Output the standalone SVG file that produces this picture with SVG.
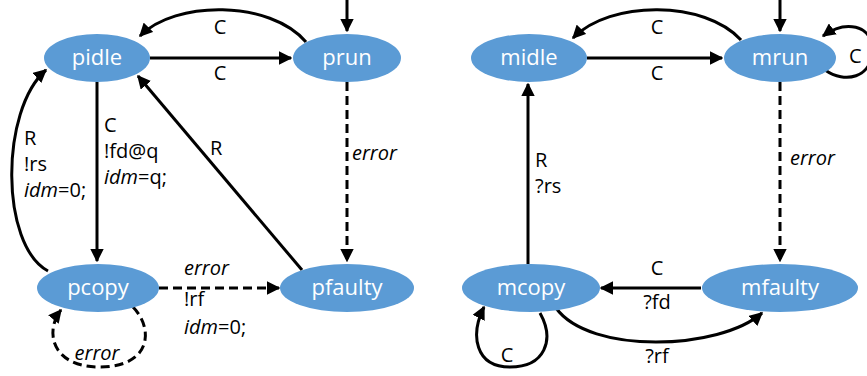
<svg xmlns="http://www.w3.org/2000/svg" width="867" height="376" viewBox="0 0 867 376">
<defs>
<marker id="ah" viewBox="0 0 10 10" refX="9" refY="5" markerWidth="4.5" markerHeight="4.5" orient="auto" markerUnits="strokeWidth">
<path d="M0,0 L10,5 L0,10 Z" fill="#000"/>
</marker>
<style>
.n{fill:#5B9BD5;}
.nt{fill:#fff;font-family:"Open Sans","Liberation Sans",sans-serif;font-size:22px;text-anchor:middle;}
.e{fill:none;stroke:#000;stroke-width:3;marker-end:url(#ah);}
.d{stroke-dasharray:9,5;}
.l{fill:#000;font-family:"Open Sans","Liberation Sans",sans-serif;font-size:20px;}
.i{font-style:italic;}
</style>
</defs>
<rect width="867" height="376" fill="#fff"/>
<g id="edges">
<path class="e" d="M347,0 L347,31"/>
<path class="e" d="M150,58 L291,58"/>
<path class="e" d="M306,42 C270,0 175,0 140,36"/>
<path class="e" d="M97,82 L97,261"/>
<path class="e" d="M48,271 C0,245 0,110 46,70"/>
<path class="e" d="M302,270 L138,76"/>
<path class="e d" d="M347,82 L347,261"/>
<path class="e d" d="M159,288 L279,288"/>
<path class="e d" d="M133,307 C155,330 150,367 100,367 C50,367 45,330 61,310"/>
<path class="e" d="M780,0 L780,31"/>
<path class="e" d="M587,58 L722,58"/>
<path class="e" d="M741,40 C705,0 610,0 573,38"/>
<path class="e" d="M825,70 C845,84 872,78 872,50 C872,24 845,20 823,36"/>
<path class="e" d="M528,264 L528,84"/>
<path class="e d" d="M780,82 L780,261"/>
<path class="e" d="M701,288 L601,288"/>
<path class="e" d="M556,308 C590,355 720,350 762,313"/>
<path class="e" d="M540,313 C555,340 545,367 510,367 C475,367 470,335 484,307"/>
</g>
<g id="labels">
<text class="l" x="220" y="34" text-anchor="middle">C</text>
<text class="l" x="220" y="80" text-anchor="middle">C</text>
<text class="l" x="104" y="132">C</text>
<text class="l" x="104" y="158">!fd@q</text>
<text class="l" x="104" y="184"><tspan class="i">idm</tspan>=q;</text>
<text class="l" x="24" y="145">R</text>
<text class="l" x="24" y="171">!rs</text>
<text class="l" x="24" y="197"><tspan class="i">idm</tspan>=0;</text>
<text class="l" x="210" y="155">R</text>
<text class="l i" x="352" y="160">error</text>
<text class="l i" x="184" y="275">error</text>
<text class="l" x="184" y="306">!rf</text>
<text class="l" x="184" y="334"><tspan class="i">idm</tspan>=0;</text>
<text class="l i" x="97" y="360" text-anchor="middle">error</text>
<text class="l" x="657" y="34" text-anchor="middle">C</text>
<text class="l" x="657" y="80" text-anchor="middle">C</text>
<text class="l" x="849" y="63">C</text>
<text class="l" x="535" y="167">R</text>
<text class="l" x="535" y="193">?rs</text>
<text class="l i" x="790" y="165">error</text>
<text class="l" x="657" y="275" text-anchor="middle">C</text>
<text class="l" x="657" y="309" text-anchor="middle">?fd</text>
<text class="l" x="657" y="363" text-anchor="middle">?rf</text>
<text class="l" x="507" y="362" text-anchor="middle">C</text>
</g>
<g id="pidle"><ellipse class="n" cx="97" cy="58" rx="53" ry="24"/><text class="nt" x="97" y="65">pidle</text></g>
<g id="prun"><ellipse class="n" cx="347" cy="58" rx="54" ry="24"/><text class="nt" x="347" y="65">prun</text></g>
<g id="pcopy"><ellipse class="n" cx="98" cy="288" rx="61" ry="24"/><text class="nt" x="98" y="295">pcopy</text></g>
<g id="pfaulty"><ellipse class="n" cx="347" cy="288" rx="67" ry="24"/><text class="nt" x="347" y="295">pfaulty</text></g>
<g id="midle"><ellipse class="n" cx="529" cy="58" rx="58" ry="24"/><text class="nt" x="529" y="65">midle</text></g>
<g id="mrun"><ellipse class="n" cx="780" cy="58" rx="56" ry="24"/><text class="nt" x="780" y="65">mrun</text></g>
<g id="mcopy"><ellipse class="n" cx="531" cy="288" rx="69" ry="24"/><text class="nt" x="531" y="295">mcopy</text></g>
<g id="mfaulty"><ellipse class="n" cx="780" cy="288" rx="78" ry="24"/><text class="nt" x="780" y="295">mfaulty</text></g>
</svg>
